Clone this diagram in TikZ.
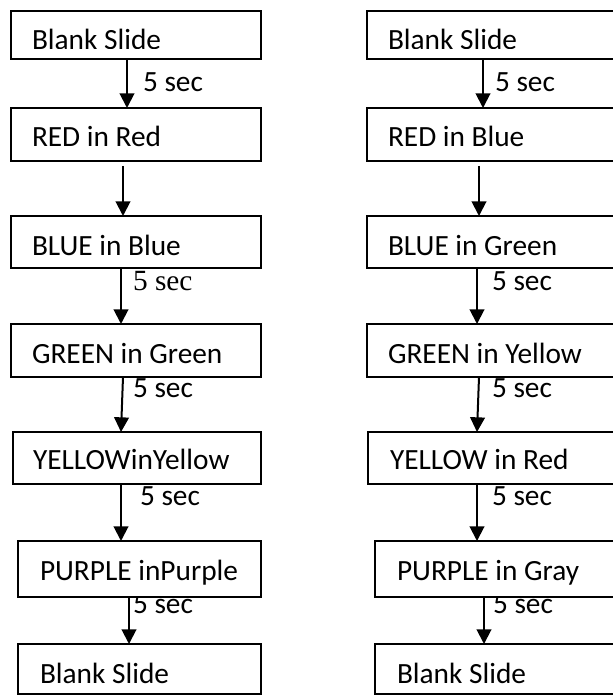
\documentclass[tikz,border=0pt]{standalone}
\usepackage{fontspec}
\setmainfont{Carlito}
\newfontfamily\timesf{Liberation Serif}
\usetikzlibrary{arrows.meta,calc}
\tikzset{
  box/.style={draw=black, fill=white, line width=1.6pt, rectangle, inner sep=0pt, outer sep=0pt, anchor=north west},
  txt/.style={inner sep=0pt, outer sep=0pt, anchor=base west, font=\fontsize{22}{26}\selectfont},
  lab/.style={inner sep=0pt, outer sep=0pt, anchor=base west, font=\fontsize{22}{26}\selectfont},
  tlab/.style={lab, font=\fontsize{22}{26}\selectfont\timesf},
  arr/.style={line width=1.5pt, -{Triangle[width=11pt,length=11pt]}}
}
\newcommand{\slidebox}[5]{\node[box, minimum width=#4*0.75pt, minimum height=#5*0.75pt] (#1) at (#2,#3) {};}
\begin{document}
\begin{tikzpicture}[x=0.75pt,y=-0.75pt]
\clip (0,0) rectangle (613,695);
\fill[white] (0,0) rectangle (613,695);
% labels (drawn first, boxes cover them partially)
\node[lab] (s1) at (143,92) {5 sec};
\node[tlab] (s3) at (133,290) {5 sec};
\node[lab] (s4) at (133,397) {5 sec};
\node[lab] (s5) at (140,505) {5 sec};
\node[lab] (s6) at (133,613) {5 sec};
\node[lab] (q1) at (495,92) {5 sec};
\node[lab] (q3) at (492,290) {5 sec};
\node[lab] (q4) at (492,397) {5 sec};
\node[lab] (q5) at (492,505) {5 sec};
\node[lab] (q6) at (493,613) {5 sec};
% left boxes
\slidebox{l1}{11}{11}{250}{48}
\slidebox{l2}{11}{108}{250}{53}
\slidebox{l3}{11}{216}{250}{52}
\slidebox{l4}{11}{324}{250}{53}
\slidebox{l5}{13}{432}{248}{52}
\slidebox{l6}{18}{541}{243}{56}
\slidebox{l7}{18}{644}{243}{50}
% right boxes
\slidebox{r1}{367}{11}{253}{48}
\slidebox{r2}{367}{108}{253}{53}
\slidebox{r3}{367}{216}{253}{52}
\slidebox{r4}{367}{324}{253}{53}
\slidebox{r5}{368}{432}{252}{52}
\slidebox{r6}{375}{541}{245}{56}
\slidebox{r7}{375}{644}{245}{50}
% texts
\begin{scope}
\clip (0,0) rectangle (613,48.5);
\node[txt] (t1) at (32,50) {Blank Slide};
\node[txt] (u1) at (388,50) {Blank Slide};
\end{scope}
\node[txt] (t2) at (32,147) {RED in Red};
\node[txt] (t3) at (32,255) {BLUE in Blue};
\node[txt] (t4) at (32,363) {GREEN in Green};
\node[txt] (t5) at (33,469) {YELLOWinYellow};
\node[txt] (t6) at (40,580) {PURPLE inPurple};
\node[txt] (t7) at (40,683) {Blank Slide};
\node[txt] (u2) at (388,147) {RED in Blue};
\node[txt] (u3) at (388,255) {BLUE in Green};
\node[txt] (u4) at (388,363) {GREEN in Yellow};
\node[txt] (u5) at (390,469) {YELLOW in Red};
\node[txt] (u6) at (397,580) {PURPLE in Gray};
\node[txt] (u7) at (397,683) {Blank Slide};
% left arrows
\draw[arr] (l1.south -| 127,0) -- (l2.north -| 127,0);
\draw[arr] ($(l2.south -| 123,0)+(0,5)$) -- (l3.north -| 123,0);
\draw[arr] (l3.south -| 121,0) -- (l4.north -| 121,0);
\draw[arr] (l4.south -| 123,0) -- (l5.north -| 121,0);
\draw[arr] (l5.south -| 121,0) -- (l6.north -| 121,0);
\draw[arr] (l6.south -| 129,0) -- (l7.north -| 129,0);
% right arrows
\draw[arr] (r1.south -| 483,0) -- (r2.north -| 483,0);
\draw[arr] ($(r2.south -| 479,0)+(0,5)$) -- (r3.north -| 479,0);
\draw[arr] (r3.south -| 477,0) -- (r4.north -| 477,0);
\draw[arr] (r4.south -| 479,0) -- (r5.north -| 477,0);
\draw[arr] (r5.south -| 477,0) -- (r6.north -| 477,0);
\draw[arr] (r6.south -| 484,0) -- (r7.north -| 484,0);
\end{tikzpicture}
\end{document}
